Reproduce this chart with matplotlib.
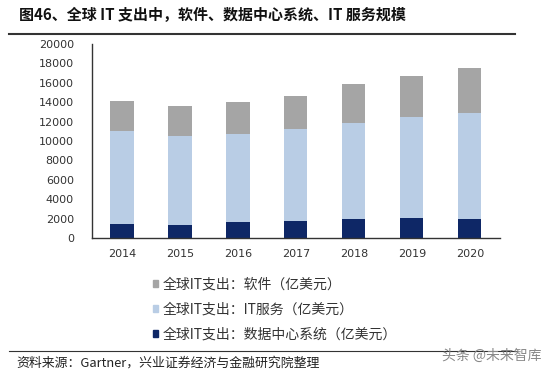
import numpy as np
import matplotlib.pyplot as plt
from matplotlib.patches import Patch

plt.rcParams['font.family'] = ['Noto Sans CJK SC', 'DejaVu Sans']

years = ['2014', '2015', '2016', '2017', '2018', '2019', '2020']
datacenter = [1410, 1340, 1650, 1790, 1960, 2060, 1960]
services = [9650, 9180, 9070, 9450, 9930, 10380, 10930]
software = [3060, 3080, 3330, 3430, 3990, 4290, 4600]

labels = ['全球IT支出：软件（亿美元）',
          '全球IT支出：IT服务（亿美元）',
          '全球IT支出：数据中心系统（亿美元）']
colors = ['#A5A5A5', '#B9CDE5', '#0E2766']

fig = plt.figure(figsize=(5.5, 3.76), dpi=100)
ax = fig.add_axes([0.167, 0.367, 0.742, 0.516])

x = np.arange(len(years))
w = 0.4
dc = np.array(datacenter)
sv = np.array(services)
sw = np.array(software)
ax.bar(x, dc, w, color=colors[2])
ax.bar(x, sv, w, bottom=dc, color=colors[1])
ax.bar(x, sw, w, bottom=dc + sv, color=colors[0])

ax.set_xlim(-0.52, 6.52)
ax.set_ylim(0, 20000)
ax.set_yticks(range(0, 20001, 2000))
ax.set_xticks(x)
ax.set_xticklabels(years)
ax.tick_params(length=0, labelsize=8, colors='#333333')
ax.tick_params(axis='y', pad=13)
ax.tick_params(axis='x', pad=8)
for lab in ax.get_xticklabels() + ax.get_yticklabels():
    lab.set_family('DejaVu Sans')
for s in ['top', 'right']:
    ax.spines[s].set_visible(False)
for s in ['left', 'bottom']:
    ax.spines[s].set_color('#333333')
    ax.spines[s].set_linewidth(1.0)

handles = [Patch(color=c) for c in colors]
fig.legend(handles, labels, loc='upper left', bbox_to_anchor=(0.278, 0.262),
           frameon=False, fontsize=10, handlelength=0.4, handleheight=0.4,
           handletextpad=0.3, labelspacing=0.8, borderaxespad=0,
           borderpad=0, labelcolor='#333333')

fig.text(0.035, 0.96, '图46、全球 IT 支出中，软件、数据中心系统、IT 服务规模',
         fontsize=10.8, fontweight='bold', va='center', color='#111111')
fig.add_artist(plt.Line2D([0.017, 0.937], [0.91, 0.91], color='#333333', lw=1.5))
fig.add_artist(plt.Line2D([0.017, 0.94], [0.066, 0.066], color='#333333', lw=0.8))
fig.text(0.03, 0.035, '资料来源：Gartner，兴业证券经济与金融研究院整理',
         fontsize=9.3, va='center', color='#222222')
fig.text(0.985, 0.055, '头条 @未来智库', fontsize=10, va='center', ha='right',
         color='#888888')

fig.savefig('out.png', dpi=100)
